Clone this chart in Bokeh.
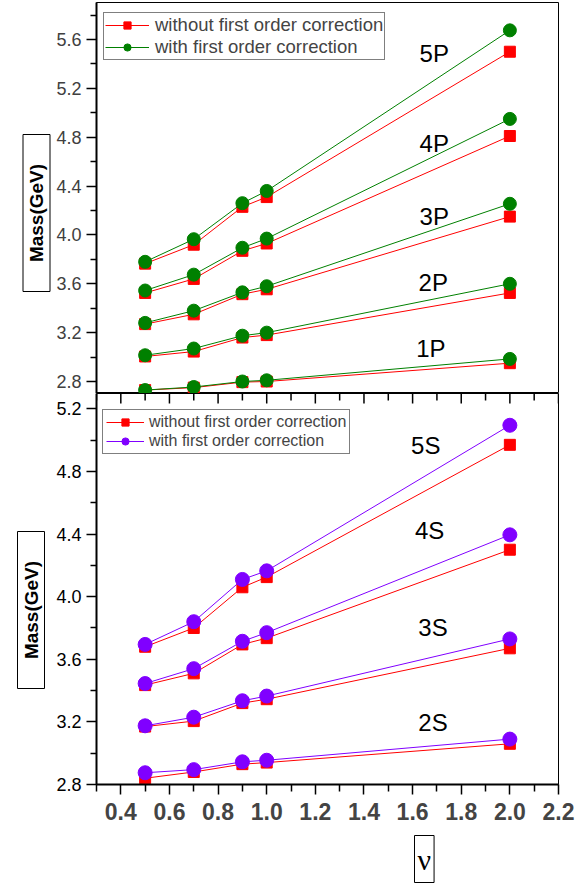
import math
from bokeh.plotting import figure
from bokeh.layouts import column
from bokeh.models import (Legend, LegendItem, Label, FixedTicker,
                          PrintfTickFormatter, Range1d, Title)
from bokeh.embed import file_html
from bokeh.resources import INLINE

# ---------------- data ----------------
nu = [0.5, 0.7, 0.9, 1.0, 2.0]

# P states (top panel)
p_names = ["1P", "2P", "3P", "4P", "5P"]
p_without = [
    [2.73, 2.75, 2.795, 2.80, 2.95],
    [3.005, 3.045, 3.16, 3.18, 3.525],
    [3.27, 3.35, 3.515, 3.555, 4.15],
    [3.525, 3.64, 3.87, 3.93, 4.81],
    [3.765, 3.92, 4.23, 4.31, 5.50],
]
p_with = [
    [2.73, 2.755, 2.80, 2.81, 2.985],
    [3.015, 3.07, 3.175, 3.20, 3.60],
    [3.28, 3.38, 3.53, 3.58, 4.255],
    [3.545, 3.675, 3.895, 3.97, 4.95],
    [3.78, 3.965, 4.26, 4.36, 5.675],
]

# S states (bottom panel)
s_names = ["2S", "3S", "4S", "5S"]
s_without = [
    [2.84, 2.88, 2.93, 2.94, 3.06],
    [3.17, 3.205, 3.32, 3.345, 3.67],
    [3.435, 3.51, 3.695, 3.735, 4.30],
    [3.68, 3.80, 4.06, 4.125, 4.97],
]
s_with = [
    [2.875, 2.895, 2.945, 2.955, 3.09],
    [3.175, 3.23, 3.335, 3.365, 3.73],
    [3.445, 3.54, 3.715, 3.77, 4.395],
    [3.695, 3.84, 4.11, 4.165, 5.095],
]

x_ticks = [0.4, 0.6, 0.8, 1.0, 1.2, 1.4, 1.6, 1.8, 2.0, 2.2]
x_minor = [0.3, 0.5, 0.7, 0.9, 1.1, 1.3, 1.5, 1.7, 1.9, 2.1]
top_y_ticks = [2.8, 3.2, 3.6, 4.0, 4.4, 4.8, 5.2, 5.6]
top_y_minor = [3.0, 3.4, 3.8, 4.2, 4.6, 5.0, 5.4, 5.8]
bot_y_ticks = [2.8, 3.2, 3.6, 4.0, 4.4, 4.8, 5.2]
bot_y_minor = [3.0, 3.4, 3.8, 4.2, 4.6, 5.0]

label_without = "without first order correction"
label_with = "with first order correction"
y_title = "Mass(GeV)"
x_title = "ν"

# label anchor positions (data coords)
p_label_pos = [(1.675, 3.068), (1.685, 3.608), (1.689, 4.149), (1.689, 4.746), (1.689, 5.489)]
s_label_pos = [(1.684, 3.197), (1.684, 3.804), (1.670, 4.424), (1.654, 4.965)]

RED = "#FF0000"
GREEN = "#008000"
PURPLE = "#8000FF"
FONT = "Liberation Sans"
NBSP = "\u00a0" * 5   # widens the boxed axis-title frame along the text


def style_yaxis(ax, ticks, minor, color):
    ax.ticker = FixedTicker(ticks=ticks, minor_ticks=minor)
    ax.formatter = PrintfTickFormatter(format="%.1f")
    ax.axis_line_width = 2
    ax.major_tick_in = 0
    ax.major_tick_out = 10
    ax.minor_tick_in = 0
    ax.minor_tick_out = 6
    ax.major_tick_line_width = 1.5
    ax.minor_tick_line_width = 1.5
    ax.major_label_text_font = FONT
    ax.major_label_text_font_size = "18px"
    ax.major_label_text_color = color
    ax.major_label_standoff = 5


def draw_panel(p, without, with_, color, sq_size, c_size):
    reds, cols = [], []
    for ys in without:
        l = p.line(nu, ys, line_color=RED, line_width=1)
        s = p.scatter(nu, ys, marker="square", size=sq_size, fill_color=RED, line_color=RED)
        reds += [l, s]
    for ys in with_:
        l = p.line(nu, ys, line_color=color, line_width=1)
        c = p.scatter(nu, ys, marker="circle", size=c_size, fill_color=color, line_color=color)
        cols += [l, c]
    return reds, cols


def boxed_title(text, offset, standoff, size, font, style, padding):
    return Title(text=text, align="left", offset=offset, standoff=standoff,
                 text_font=font, text_font_size=size, text_font_style=style,
                 text_color="black", border_line_color="black", border_line_width=1,
                 background_fill_color="white", padding=padding)


# ---------------- top panel ----------------
p1 = figure(frame_width=462, frame_height=391,
            x_range=Range1d(0.3, 2.2), y_range=Range1d(2.7018, 5.903),
            output_backend="svg", toolbar_location=None,
            x_axis_location=None, y_axis_location="left",
            min_border_left=96, min_border_right=25,
            min_border_top=2, min_border_bottom=0,
            outline_line_color="black", outline_line_width=1,
            background_fill_color="white", border_fill_color="white")
p1.grid.grid_line_color = None
style_yaxis(p1.yaxis[0], top_y_ticks, top_y_minor, "#404040")

r1, g1 = draw_panel(p1, p_without, p_with, GREEN, 11, 13)
leg1 = Legend(items=[LegendItem(label=label_without, renderers=r1[:2]),
                     LegendItem(label=label_with, renderers=g1[:2])],
              location=(7, 333), padding=1, spacing=0,
              glyph_width=44, glyph_height=18, label_standoff=6,
              label_text_font=FONT, label_text_font_size="18.5px",
              label_height=18,
              border_line_color="black", border_line_width=1,
              background_fill_color="white", background_fill_alpha=1)
p1.add_layout(leg1)

for name, (lx, ly) in zip(p_names, p_label_pos):
    p1.add_layout(Label(x=lx, y=ly, text=name, text_font=FONT, text_font_size="24px",
                        text_align="center", text_baseline="middle", text_color="black"))

p1.add_layout(boxed_title(NBSP + y_title + NBSP, 102, 7, "19px", FONT, "bold", (3, 3)), "left")

# ---------------- bottom panel ----------------
p2 = figure(frame_width=462, frame_height=391,
            x_range=Range1d(0.3, 2.2), y_range=Range1d(2.8, 5.298),
            output_backend="svg", toolbar_location=None,
            x_axis_location="below", y_axis_location="left",
            min_border_left=96, min_border_right=25,
            min_border_top=0, min_border_bottom=98,
            outline_line_color="black", outline_line_width=1,
            background_fill_color="white", border_fill_color="white")
p2.grid.grid_line_color = None
style_yaxis(p2.yaxis[0], bot_y_ticks, bot_y_minor, "#000000")

xa = p2.xaxis[0]
xa.ticker = FixedTicker(ticks=x_ticks, minor_ticks=x_minor)
xa.formatter = PrintfTickFormatter(format="%.1f")
xa.axis_line_width = 2
xa.major_tick_in = 0
xa.major_tick_out = 10
xa.minor_tick_in = 0
xa.minor_tick_out = 7
xa.major_tick_line_width = 1.5
xa.minor_tick_line_width = 1.5
xa.major_label_text_font = FONT
xa.major_label_text_font_size = "23px"
xa.major_label_text_font_style = "bold"
xa.major_label_text_color = "#444444"
xa.major_label_standoff = 8

# ticks of the upper panel's x axis, pointing down into the lower panel
y_top = p2.y_range.end
p2.scatter(x_ticks, [y_top] * len(x_ticks), marker="dash", angle=math.pi / 2,
           size=20, line_color="black", line_width=1.5)
p2.scatter(x_minor, [y_top] * len(x_minor), marker="dash", angle=math.pi / 2,
           size=14, line_color="black", line_width=1.5)

r2, v2 = draw_panel(p2, s_without, s_with, PURPLE, 11, 14)
leg2 = Legend(items=[LegendItem(label=label_without, renderers=r2[:2]),
                     LegendItem(label=label_with, renderers=v2[:2])],
              location=(6, 330), padding=3, spacing=1,
              glyph_width=38, glyph_height=18, label_standoff=5,
              label_text_font=FONT, label_text_font_size="16px",
              label_height=18,
              border_line_color="black", border_line_width=1,
              background_fill_color="white", background_fill_alpha=1)
p2.add_layout(leg2)

for name, (lx, ly) in zip(s_names, s_label_pos):
    p2.add_layout(Label(x=lx, y=ly, text=name, text_font=FONT, text_font_size="24px",
                        text_align="center", text_baseline="middle", text_color="black"))

p2.add_layout(boxed_title(NBSP + y_title + NBSP, 96, 18, "19px", FONT, "bold", (3, 3)), "left")
p2.add_layout(boxed_title(x_title, 318, 22, "30px", "Liberation Serif", "normal", (3, 7)), "below")

layout = column(p1, p2, spacing=0)
open("out.html", "w").write(file_html(layout, INLINE))
